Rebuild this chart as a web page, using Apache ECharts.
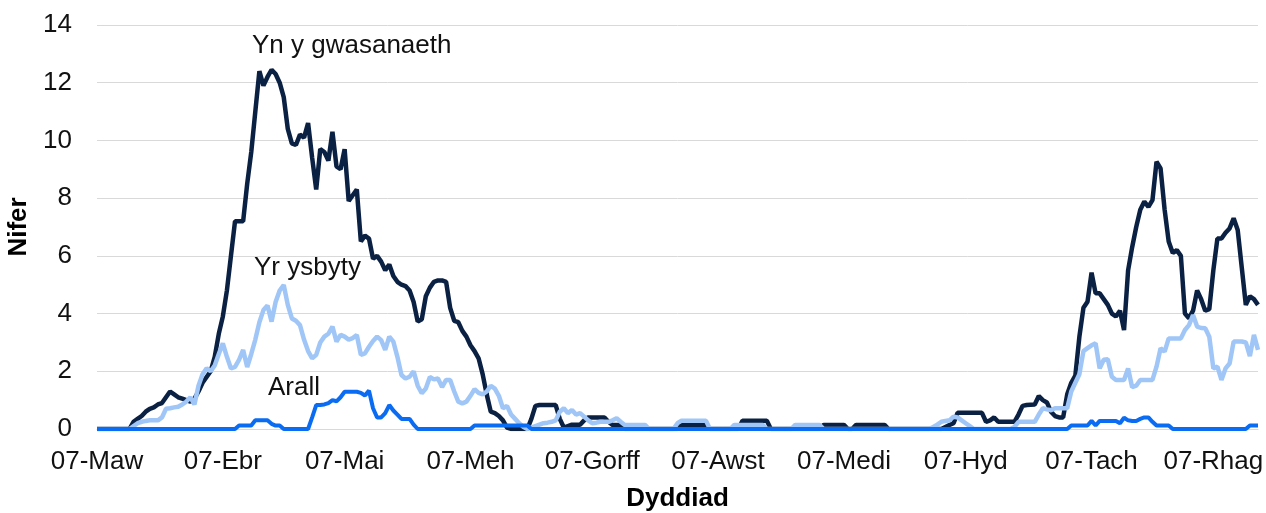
<!DOCTYPE html>
<html>
<head>
<meta charset="utf-8">
<script src="https://cdn.jsdelivr.net/npm/echarts@6/dist/echarts.min.js"></script>
<style>
  html, body { margin: 0; padding: 0; background: #fff; }
  #chart { width: 1266px; height: 513px; }
</style>
</head>
<body>
<div id="chart"></div>
<script>
// daily values from 07 Mar (index 0) to 18 Dec
const startDate = [2020, 2, 7]
const monthNames = ['Ion', 'Chwef', 'Maw', 'Ebr', 'Mai', 'Meh', 'Gorff', 'Awst', 'Medi', 'Hyd', 'Tach', 'Rhag']
const yTicks = [0, 2, 4, 6, 8, 10, 12, 14]

const seriesNames = ['Yn y gwasanaeth', 'Yr ysbyty', 'Arall']

// Yn y gwasanaeth
const inService = [
  0, 0, 0, 0, 0, 0, 0, 0, 0, 0.25,
  0.35, 0.45, 0.6, 0.7, 0.75, 0.85, 0.9, 1.1, 1.3, 1.2,
  1.1, 1.05, 1.0, 0.95, 1.05, 1.3, 1.6, 1.8, 2.0, 2.5,
  3.3, 3.9, 4.8, 6.0, 7.2, 7.2, 7.2, 8.5, 9.6, 11.0,
  12.4, 11.9, 12.2, 12.45, 12.3, 12.0, 11.5, 10.4, 9.9, 9.84,
  10.2, 10.1, 10.6, 9.4, 8.3, 9.7, 9.6, 9.3, 10.3, 9.1,
  9.0, 9.7, 7.9, 8.1, 8.3, 6.5, 6.7, 6.6, 5.9, 6.0,
  5.8, 5.5, 5.7, 5.3, 5.1, 5.0, 4.95, 4.8, 4.4, 3.72,
  3.8, 4.6, 4.9, 5.1, 5.15, 5.15, 5.1, 4.2, 3.75, 3.7,
  3.4, 3.2, 2.9, 2.7, 2.45, 1.9, 1.2, 0.6, 0.55, 0.45,
  0.3, 0.05, 0, 0, 0, 0, 0, 0.35, 0.8, 0.83,
  0.83, 0.83, 0.83, 0.83, 0.35, 0.05, 0.1, 0.15, 0.15, 0.15,
  0.3, 0.4, 0.4, 0.4, 0.4, 0.4, 0.25, 0.14, 0.14, 0.14,
  0, 0, 0, 0, 0, 0, 0, 0, 0, 0,
  0, 0, 0, 0, 0.14, 0.14, 0.14, 0.14, 0.14, 0.14,
  0.14, 0, 0, 0, 0, 0, 0, 0, 0, 0.29,
  0.29, 0.29, 0.29, 0.29, 0.29, 0.29, 0, 0, 0, 0,
  0, 0, 0, 0, 0, 0, 0, 0, 0, 0.14,
  0.14, 0.14, 0.14, 0.14, 0.14, 0, 0, 0.14, 0.14, 0.14,
  0.14, 0.14, 0.14, 0.14, 0.14, 0, 0, 0, 0, 0,
  0, 0, 0, 0, 0, 0, 0, 0, 0, 0.07,
  0.14, 0.2, 0.56, 0.56, 0.56, 0.56, 0.56, 0.56, 0.56, 0.25,
  0.3, 0.4, 0.25, 0.25, 0.25, 0.25, 0.25, 0.5, 0.8, 0.83,
  0.84, 0.85, 1.14, 1.0, 0.92, 0.6, 0.45, 0.4, 0.4, 1.2,
  1.6, 1.85, 3.2, 4.2, 4.41, 5.42, 4.7, 4.7, 4.5, 4.3,
  4.0, 3.9, 4.1, 3.43, 5.5, 6.3, 7.0, 7.6, 7.88, 7.7,
  7.93, 9.26, 9.03, 7.6, 6.5, 6.1, 6.2, 6.0, 4.0, 3.84,
  4.1, 4.8, 4.5, 4.1, 4.15, 5.5, 6.6, 6.6, 6.8, 6.95,
  7.3, 6.9, 5.6, 4.3, 4.6, 4.5, 4.3
]

// Yr ysbyty
const inHospital = [
  0, 0, 0, 0, 0, 0, 0, 0, 0, 0.1,
  0.2, 0.25, 0.28, 0.3, 0.3, 0.3, 0.4, 0.7, 0.72, 0.75,
  0.77, 0.85, 0.95, 1.1, 0.85, 1.5, 1.9, 2.1, 2.0, 2.2,
  2.6, 2.97, 2.5, 2.1, 2.15, 2.4, 2.74, 2.15, 2.6, 3.1,
  3.7, 4.12, 4.28, 3.72, 4.4, 4.8, 4.99, 4.3, 3.83, 3.75,
  3.6, 3.1, 2.7, 2.45, 2.57, 3.0, 3.2, 3.3, 3.55, 3.03,
  3.26, 3.2, 3.1, 3.15, 3.26, 2.57, 2.62, 2.85, 3.05, 3.2,
  3.08, 2.74, 3.2, 3.03, 2.5, 1.87, 1.75, 1.81, 2.0, 1.5,
  1.24, 1.4, 1.8, 1.72, 1.75, 1.45, 1.7, 1.7, 1.3, 0.95,
  0.89, 0.95, 1.15, 1.38, 1.25, 1.2, 1.3, 1.5, 1.4, 1.15,
  0.72, 0.8, 0.5, 0.35, 0.2, 0.08, 0, 0.05, 0.1, 0.15,
  0.2, 0.22, 0.25, 0.3, 0.6, 0.72, 0.55, 0.66, 0.5, 0.55,
  0.43, 0.3, 0.2, 0.22, 0.25, 0.25, 0.25, 0.3, 0.37, 0.25,
  0.14, 0.14, 0.14, 0.14, 0.14, 0.14, 0, 0, 0, 0,
  0, 0, 0, 0.2, 0.29, 0.29, 0.29, 0.29, 0.29, 0.29,
  0.29, 0, 0, 0, 0, 0, 0, 0.14, 0.14, 0.14,
  0.14, 0.14, 0.14, 0.14, 0.14, 0, 0, 0, 0, 0,
  0, 0, 0.14, 0.14, 0.14, 0.14, 0.14, 0.14, 0.14, 0,
  0, 0, 0, 0, 0, 0, 0, 0, 0, 0,
  0, 0, 0, 0, 0, 0, 0, 0, 0, 0,
  0, 0, 0, 0, 0, 0, 0.07, 0.15, 0.25, 0.28,
  0.3, 0.43, 0.4, 0.3, 0.2, 0.1, 0, 0, 0, 0,
  0, 0, 0, 0, 0, 0, 0.07, 0.25, 0.25, 0.25,
  0.25, 0.25, 0.5, 0.72, 0.68, 0.65, 0.72, 0.72, 0.72, 0.72,
  1.3, 1.6, 1.9, 2.7, 2.8, 2.9, 2.97, 2.1, 2.4, 2.42,
  1.81, 1.7, 1.7, 1.7, 2.1, 1.45, 1.5, 1.7, 1.7, 1.7,
  1.7, 2.16, 2.8, 2.68, 3.14, 3.14, 3.14, 3.14, 3.43, 3.6,
  3.95, 3.55, 3.5, 3.49, 3.2, 2.1, 2.16, 1.7, 2.1, 2.27,
  3.03, 3.03, 3.03, 3.0, 2.53, 3.26, 2.74
]

// Arall
const other = [
  0, 0, 0, 0, 0, 0, 0, 0, 0, 0,
  0, 0, 0, 0, 0, 0, 0, 0, 0, 0,
  0, 0, 0, 0, 0, 0, 0, 0, 0, 0,
  0, 0, 0, 0, 0, 0.12, 0.12, 0.12, 0.12, 0.3,
  0.3, 0.3, 0.3, 0.18, 0.12, 0.12, 0, 0, 0, 0,
  0, 0, 0, 0.4, 0.83, 0.83, 0.85, 0.9, 1.0, 0.96,
  1.1, 1.29, 1.29, 1.29, 1.29, 1.25, 1.16, 1.33, 0.72, 0.4,
  0.4, 0.55, 0.83, 0.64, 0.5, 0.35, 0.35, 0.35, 0.15, 0,
  0, 0, 0, 0, 0, 0, 0, 0, 0, 0,
  0, 0, 0, 0.12, 0.12, 0.12, 0.12, 0.12, 0.12, 0.12,
  0.12, 0.12, 0.12, 0.12, 0.12, 0.12, 0.12, 0, 0, 0,
  0, 0, 0, 0, 0, 0, 0, 0, 0, 0,
  0, 0, 0, 0, 0, 0, 0, 0, 0, 0,
  0, 0, 0, 0, 0, 0, 0, 0, 0, 0,
  0, 0, 0, 0, 0, 0, 0, 0, 0, 0,
  0, 0, 0, 0, 0, 0, 0, 0, 0, 0,
  0, 0, 0, 0, 0, 0, 0, 0, 0, 0,
  0, 0, 0, 0, 0, 0, 0, 0, 0, 0,
  0, 0, 0, 0, 0, 0, 0, 0, 0, 0,
  0, 0, 0, 0, 0, 0, 0, 0, 0, 0,
  0, 0, 0, 0, 0, 0, 0, 0, 0, 0,
  0, 0, 0, 0, 0, 0, 0, 0, 0, 0,
  0, 0, 0, 0, 0, 0, 0, 0, 0, 0,
  0, 0, 0, 0, 0, 0, 0, 0, 0, 0,
  0.12, 0.12, 0.12, 0.12, 0.12, 0.28, 0.12, 0.28, 0.28, 0.28,
  0.28, 0.28, 0.2, 0.39, 0.3, 0.28, 0.28, 0.35, 0.4, 0.4,
  0.25, 0.12, 0.12, 0.12, 0.12, 0, 0, 0, 0, 0,
  0, 0, 0, 0, 0, 0, 0, 0, 0, 0,
  0, 0, 0, 0, 0.12, 0.12, 0.12
]

// one category per day: [day of month, month index]
const categories = inService.map((v, i) => {
  const d = new Date(startDate[0], startDate[1], startDate[2] + i)
  return [d.getDate(), d.getMonth()]
})

const font = '"Liberation Sans", Arial, sans-serif'
const chart = echarts.init(document.getElementById('chart'))

chart.setOption({
  animation: false,
  textStyle: { fontFamily: font },
  grid: {
    left: 97,
    right: 8,
    top: 25,
    bottom: 84,
    containLabel: false,
    outerBoundsMode: 'none'
  },
  xAxis: {
    type: 'category',
    boundaryGap: false,
    data: categories.map(c => c[0] + '-' + c[1]),
    name: 'Dyddiad',
    nameLocation: 'middle',
    nameGap: 57,
    nameTextStyle: { fontSize: 26, fontWeight: 'bold', color: '#000', fontFamily: font },
    axisLine: { lineStyle: { color: '#d9d9d9' } },
    axisTick: { show: false },
    axisLabel: {
      interval: (i) => categories[i][0] === 7,
      formatter: (val, i) => '07-' + monthNames[categories[i][1]],
      fontSize: 26,
      color: '#111',
      margin: 20,
      fontFamily: font
    }
  },
  yAxis: {
    type: 'value',
    min: yTicks[0],
    max: yTicks[yTicks.length - 1],
    interval: 2,
    name: 'Nifer',
    nameLocation: 'middle',
    nameGap: 62,
    nameTextStyle: { fontSize: 26, fontWeight: 'bold', color: '#000', fontFamily: font },
    axisLine: { show: false },
    axisTick: { show: false },
    axisLabel: { fontSize: 26, color: '#111', margin: 25, fontFamily: font },
    splitLine: { lineStyle: { color: '#d9d9d9', width: 1 } }
  },
  graphic: [
    { type: 'text', left: 252, top: 33, style: { text: seriesNames[0], font: '26px ' + font, fill: '#111' } },
    { type: 'text', left: 254, top: 255, style: { text: seriesNames[1], font: '26px ' + font, fill: '#111' } },
    { type: 'text', left: 268, top: 375, style: { text: seriesNames[2], font: '26px ' + font, fill: '#111' } }
  ],
  series: [
    {
      name: seriesNames[0],
      type: 'line',
      data: inService,
      showSymbol: false,
      lineStyle: { color: '#0b2143', width: 4.5 },
      itemStyle: { color: '#0b2143' }
    },
    {
      name: seriesNames[1],
      type: 'line',
      data: inHospital,
      showSymbol: false,
      lineStyle: { color: '#9fc6f7', width: 4.5 },
      itemStyle: { color: '#9fc6f7' }
    },
    {
      name: seriesNames[2],
      type: 'line',
      data: other,
      showSymbol: false,
      lineStyle: { color: '#0a6cf2', width: 4 },
      itemStyle: { color: '#0a6cf2' }
    }
  ]
})
</script>
</body>
</html>
